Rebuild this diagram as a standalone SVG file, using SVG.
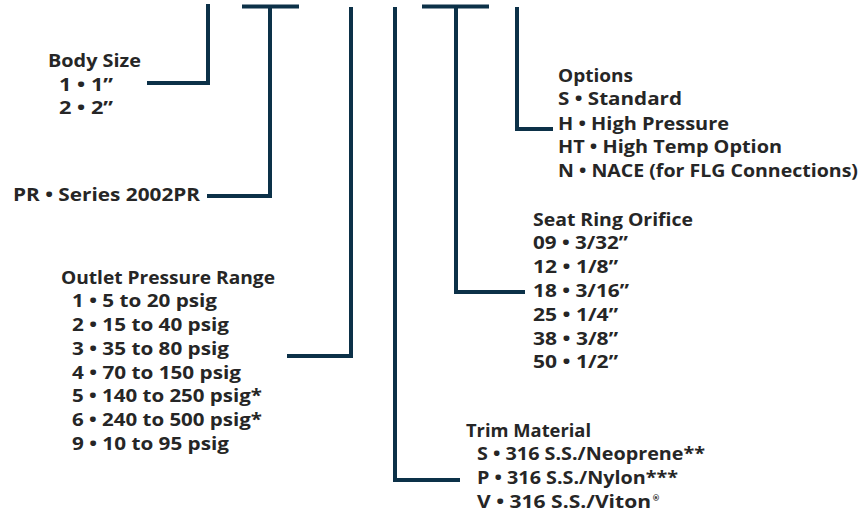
<svg xmlns="http://www.w3.org/2000/svg" width="866" height="515" viewBox="0 0 866 515">
<style>
  .t { font-family: "Open Sans", "Liberation Sans", sans-serif; font-weight: 700; font-size: 17px; fill: #262626; }
  .c { fill: none; stroke: #0c3148; stroke-width: 4; stroke-linejoin: miter; stroke-linecap: butt; }
  .r { font-family: "DejaVu Sans", "Liberation Sans", sans-serif; font-size: 8px; font-weight: 700; }
</style>
<rect width="866" height="515" fill="#ffffff"/>
<g id="connectors">
  <path class="c" d="M147,83 H208 V4"/>
  <path class="c" d="M242,6.5 H299"/>
  <path class="c" d="M207,196 H270 V6.5"/>
  <path class="c" d="M287,356 H351 V7"/>
  <path class="c" d="M460,480 H395 V7"/>
  <path class="c" d="M422,6.5 H489"/>
  <path class="c" d="M525,292 H456 V6.5"/>
  <path class="c" d="M553,129 H517 V7"/>
</g>
<g id="body-size">
  <text class="t" x="48" y="67" textLength="93" lengthAdjust="spacingAndGlyphs">Body Size</text>
  <text class="t" x="59" y="90.5" textLength="54" lengthAdjust="spacingAndGlyphs">1 • 1”</text>
  <text class="t" x="59" y="114" textLength="54" lengthAdjust="spacingAndGlyphs">2 • 2”</text>
</g>
<g id="series">
  <text class="t" x="13" y="201" textLength="187" lengthAdjust="spacingAndGlyphs">PR • Series 2002PR</text>
</g>
<g id="outlet-pressure">
  <text class="t" x="61" y="283.5" textLength="214" lengthAdjust="spacingAndGlyphs">Outlet Pressure Range</text>
  <text class="t" x="72" y="307" textLength="145" lengthAdjust="spacingAndGlyphs">1 • 5 to 20 psig</text>
  <text class="t" x="72" y="331" textLength="157" lengthAdjust="spacingAndGlyphs">2 • 15 to 40 psig</text>
  <text class="t" x="72" y="355" textLength="157" lengthAdjust="spacingAndGlyphs">3 • 35 to 80 psig</text>
  <text class="t" x="72" y="378.5" textLength="169" lengthAdjust="spacingAndGlyphs">4 • 70 to 150 psig</text>
  <text class="t" x="72" y="402" textLength="190" lengthAdjust="spacingAndGlyphs">5 • 140 to 250 psig*</text>
  <text class="t" x="72" y="426" textLength="190" lengthAdjust="spacingAndGlyphs">6 • 240 to 500 psig*</text>
  <text class="t" x="72" y="450" textLength="157" lengthAdjust="spacingAndGlyphs">9 • 10 to 95 psig</text>
</g>
<g id="trim-material">
  <text class="t" x="466" y="436.5" textLength="125" lengthAdjust="spacingAndGlyphs">Trim Material</text>
  <text class="t" x="477" y="460" textLength="228" lengthAdjust="spacingAndGlyphs">S • 316 S.S./Neoprene**</text>
  <text class="t" x="477" y="484" textLength="201" lengthAdjust="spacingAndGlyphs">P • 316 S.S./Nylon***</text>
  <text class="t" x="477" y="508"><tspan textLength="174" lengthAdjust="spacingAndGlyphs">V • 316 S.S./Viton</tspan><tspan class="r" dx="1" dy="-7">®</tspan></text>
</g>
<g id="seat-ring">
  <text class="t" x="533" y="225.5" textLength="160" lengthAdjust="spacingAndGlyphs">Seat Ring Orifice</text>
  <text class="t" x="533" y="249" textLength="95" lengthAdjust="spacingAndGlyphs">09 • 3/32”</text>
  <text class="t" x="533" y="273" textLength="85" lengthAdjust="spacingAndGlyphs">12 • 1/8”</text>
  <text class="t" x="533" y="297" textLength="96" lengthAdjust="spacingAndGlyphs">18 • 3/16”</text>
  <text class="t" x="533" y="320.5" textLength="85" lengthAdjust="spacingAndGlyphs">25 • 1/4”</text>
  <text class="t" x="533" y="344.5" textLength="85" lengthAdjust="spacingAndGlyphs">38 • 3/8”</text>
  <text class="t" x="533" y="368" textLength="85" lengthAdjust="spacingAndGlyphs">50 • 1/2”</text>
</g>
<g id="options">
  <text class="t" x="558" y="81.5" textLength="75" lengthAdjust="spacingAndGlyphs">Options</text>
  <text class="t" x="558" y="105" textLength="124" lengthAdjust="spacingAndGlyphs">S • Standard</text>
  <text class="t" x="558" y="130" textLength="171" lengthAdjust="spacingAndGlyphs">H • High Pressure</text>
  <text class="t" x="558" y="153" textLength="224" lengthAdjust="spacingAndGlyphs">HT • High Temp Option</text>
  <text class="t" x="558" y="177" textLength="300" lengthAdjust="spacingAndGlyphs">N • NACE (for FLG Connections)</text>
</g>
</svg>
